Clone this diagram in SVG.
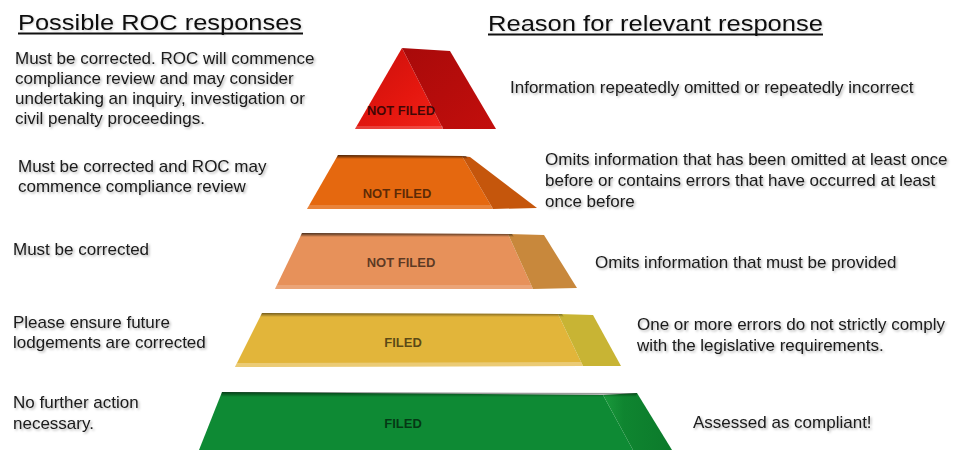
<svg xmlns="http://www.w3.org/2000/svg" width="964" height="450" viewBox="0 0 964 450">
  <defs>
    <filter id="soft" x="-5%" y="-30%" width="110%" height="160%">
      <feDropShadow dx="1.5" dy="1.5" stdDeviation="1" flood-color="#000" flood-opacity="0.3"/>
    </filter>
    <filter id="faint" x="-5%" y="-30%" width="110%" height="160%">
      <feDropShadow dx="1" dy="1" stdDeviation="0.8" flood-color="#000" flood-opacity="0.18"/>
    </filter>
    <!-- top edge shading for each tier -->
    <linearGradient id="topShade" x1="0" y1="0" x2="0" y2="1">
      <stop offset="0" stop-color="#000" stop-opacity="0.7"/>
      <stop offset="1" stop-color="#000" stop-opacity="0"/>
    </linearGradient>
    <linearGradient id="redFront" x1="0" y1="0" x2="1" y2="1">
      <stop offset="0" stop-color="#c80f0c"/>
      <stop offset="0.6" stop-color="#e5170f"/>
      <stop offset="1" stop-color="#f0241a"/>
    </linearGradient>
    <linearGradient id="redSide" x1="0" y1="0" x2="1" y2="1">
      <stop offset="0" stop-color="#a80a0a"/>
      <stop offset="1" stop-color="#c30e0c"/>
    </linearGradient>
    <linearGradient id="greenSide" x1="0" y1="0" x2="1" y2="0">
      <stop offset="0" stop-color="#1a9a3c"/>
      <stop offset="0.3" stop-color="#0f8530"/>
      <stop offset="1" stop-color="#0c7a2b"/>
    </linearGradient>
  </defs>
  <style>
    .txt { font-family: "Liberation Sans", Arial, sans-serif; font-size: 17px; fill: #1a1a1a; filter: url(#soft); }
    .head { font-family: "Liberation Sans", Arial, sans-serif; font-size: 22px; fill: #111; filter: url(#faint); }
    .rule { stroke: #111; stroke-width: 2; }
    .lbl { font-family: "Liberation Sans", Arial, sans-serif; font-size: 13px; font-weight: bold; text-anchor: middle; fill: #000; fill-opacity: 0.62; }
    .bevel { fill: #fff; fill-opacity: 0.18; }
  </style>

  <rect width="964" height="450" fill="#fff"/>

  <!-- column headings -->
  <g id="heading-responses">
    <text class="head" x="18" y="30" textLength="284" lengthAdjust="spacingAndGlyphs">Possible ROC responses</text>
    <line class="rule" x1="18" y1="33.5" x2="303" y2="33.5"/>
  </g>
  <g id="heading-reasons">
    <text class="head" x="488" y="31" textLength="335" lengthAdjust="spacingAndGlyphs">Reason for relevant response</text>
    <line class="rule" x1="488" y1="34.5" x2="823" y2="34.5"/>
  </g>

  <!-- tier 1: red -->
  <g id="tier-1">
    <path d="M402,48 L355,129 L443,129 Z" fill="url(#redFront)"/>
    <path d="M402,48 L450,51 L496,129 L443,129 Z" fill="url(#redSide)"/>
    <path d="M357,126 L443,126 L443,129 L355,129 Z" class="bevel"/>
    <text class="lbl" x="401" y="115" textLength="68" lengthAdjust="spacingAndGlyphs" style="fill-opacity:0.72">NOT FILED</text>
  </g>

  <!-- tier 2: orange -->
  <g id="tier-2">
    <path d="M338,155 L462,156 L493,209 L307,209 Z" fill="#e5680f"/>
    <path d="M462,156 L470,157 L537,208 L493,209 Z" fill="#c5560c"/>
    <path d="M338,155 L466,156 L468,159 L336,159 Z" fill="url(#topShade)"/>
    <path d="M309,205 L491,205 L493,209 L307,209 Z" class="bevel"/>
    <text class="lbl" x="397" y="198">NOT FILED</text>
  </g>

  <!-- tier 3: light orange -->
  <g id="tier-3">
    <path d="M302,233 L508,234 L533,289 L275,289 Z" fill="#e7915a"/>
    <path d="M508,234 L544,235 L577,288 L533,289 Z" fill="#c8883c"/>
    <path d="M302,233 L512,234 L514,237 L300,237 Z" fill="url(#topShade)"/>
    <path d="M277,285 L531,285 L533,289 L275,289 Z" class="bevel"/>
    <text class="lbl" x="401" y="267">NOT FILED</text>
  </g>

  <!-- tier 4: yellow -->
  <g id="tier-4">
    <path d="M262,313 L558,314 L583,366 L235,367 Z" fill="#e2b53a"/>
    <path d="M558,314 L593,315 L621,366 L583,366 Z" fill="#c8b434"/>
    <path d="M262,313 L562,314 L564,317 L260,317 Z" fill="url(#topShade)" opacity="0.7"/>
    <path d="M237,363 L581,362 L583,366 L235,367 Z" class="bevel" style="fill-opacity:0.3"/>
    <text class="lbl" x="403" y="347">FILED</text>
  </g>

  <!-- tier 5: green -->
  <g id="tier-5">
    <path d="M222,392 L603,395 L633,450 L199,450 Z" fill="#0e8a34"/>
    <path d="M603,395 L637,393 L672,450 L633,450 Z" fill="url(#greenSide)"/>
    <path d="M222,392 L637,393 L636,397 L221,397 Z" fill="url(#topShade)" opacity="0.8"/>
    <text class="lbl" x="403" y="428">FILED</text>
  </g>

  <!-- responses (left column) -->
  <g id="response-1">
    <text class="txt" x="15" y="64">Must be corrected. ROC will commence</text>
    <text class="txt" x="15" y="84">compliance review and may consider</text>
    <text class="txt" x="15" y="104">undertaking an inquiry, investigation or</text>
    <text class="txt" x="15" y="124">civil penalty proceedings.</text>
  </g>
  <g id="response-2">
    <text class="txt" x="18" y="172">Must be corrected and ROC may</text>
    <text class="txt" x="18" y="192">commence compliance review</text>
  </g>
  <g id="response-3">
    <text class="txt" x="13" y="255">Must be corrected</text>
  </g>
  <g id="response-4">
    <text class="txt" x="13" y="328">Please ensure future</text>
    <text class="txt" x="13" y="348">lodgements are corrected</text>
  </g>
  <g id="response-5">
    <text class="txt" x="13" y="408">No further action</text>
    <text class="txt" x="13" y="429">necessary.</text>
  </g>

  <!-- reasons (right column) -->
  <g id="reason-1">
    <text class="txt" x="510" y="93">Information repeatedly omitted or repeatedly incorrect</text>
  </g>
  <g id="reason-2">
    <text class="txt" x="545" y="165">Omits information that has been omitted at least once</text>
    <text class="txt" x="545" y="186">before or contains errors that have occurred at least</text>
    <text class="txt" x="545" y="207">once before</text>
  </g>
  <g id="reason-3">
    <text class="txt" x="595" y="268">Omits information that must be provided</text>
  </g>
  <g id="reason-4">
    <text class="txt" x="637" y="330">One or more errors do not strictly comply</text>
    <text class="txt" x="637" y="351">with the legislative requirements.</text>
  </g>
  <g id="reason-5">
    <text class="txt" x="693" y="428">Assessed as compliant!</text>
  </g>
</svg>
